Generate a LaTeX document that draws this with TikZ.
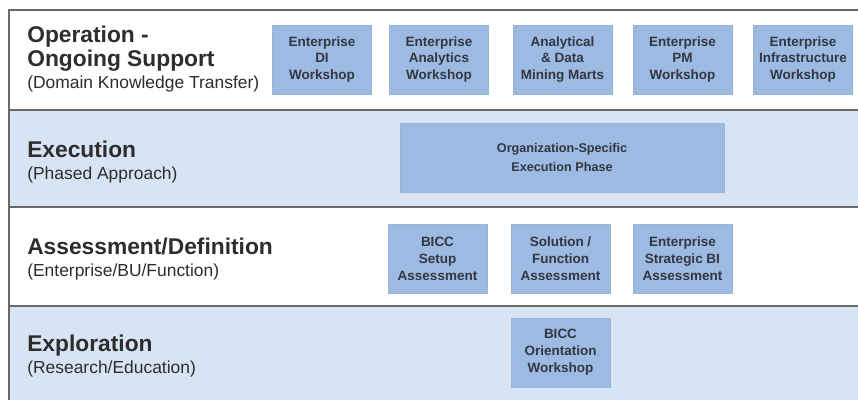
\documentclass[tikz,border=0pt]{standalone}
\usepackage{fontspec}
\setmainfont{Liberation Sans}
\usepackage{tikz}
\usetikzlibrary{positioning}
\definecolor{bandblue}{RGB}{214,228,243}
\definecolor{boxblue}{RGB}{157,186,226}
\definecolor{rulegray}{RGB}{105,105,105}
\definecolor{inkgray}{RGB}{45,45,45}
\definecolor{boxink}{RGB}{50,55,65}

\begin{document}
\begin{tikzpicture}[x=0.025cm, y=-0.025cm,
  bandtitle/.style={font=\fontsize{16.2}{17}\selectfont\bfseries, text=inkgray, inner sep=0pt},
  bandsub/.style={font=\fontsize{12.4}{14}\selectfont, text=inkgray, inner sep=0pt},
  blk/.style={fill=boxblue, draw=boxblue!90!gray, line width=0.4pt, text=boxink,
    minimum width=2.47cm, minimum height=1.73cm, inner sep=1pt, align=center,
    font=\fontsize{9.6}{12}\selectfont\bfseries},
  sep/.style={draw=rulegray, line width=1.6pt}
]
  \useasboundingbox (0,0) rectangle (858,400);
  % Bands
  \fill[white] (9,10) rectangle (858,110);
  \fill[bandblue] (9,110) rectangle (858,207);
  \fill[white] (9,207) rectangle (858,306);
  \fill[bandblue] (9,306) rectangle (858,400);
  % Rules
  \draw[sep] (858,10) -- (9,10) -- (9,400);
  \draw[sep] (9,110) -- (858,110);
  \draw[sep] (9,207) -- (858,207);
  \draw[sep] (9,306) -- (858,306);

  % Row 1: Operation
  \node[bandtitle, anchor=base west] (opA) at (27,43) {Operation -};
  \node[bandtitle, anchor=base west] (opB) at (27,67) {Ongoing Support};
  \node[bandsub, anchor=base west] (opsub) at (27,89) {(Domain Knowledge Transfer)};
  \node[blk] (diws) at (322,59.5) {Enterprise\\DI\\Workshop};
  \node[blk] (anws) at (439,59.5) {Enterprise\\Analytics\\Workshop};
  \node[blk] (marts) at (562.5,59.5) {Analytical\\\& Data\\Mining Marts};
  \node[blk] (pmws) at (682.5,59.5) {Enterprise\\PM\\Workshop};
  \node[blk] (infws) at (803,59.5) {Enterprise\\Infrastructure\\Workshop};

  % Row 2: Execution
  \node[bandtitle, anchor=base west] (exec) at (27,158) {Execution};
  \node[bandsub, anchor=base west] (execsub) at (27,180) {(Phased Approach)};
  \node[blk, minimum width=8.1cm, font=\fontsize{9}{13}\selectfont\bfseries] (phase) at (562,157.5)
    {Organization-Specific\\Execution Phase};

  % Row 3: Assessment
  \node[bandtitle, anchor=base west] (assess) at (27,255) {Assessment/Definition};
  \node[bandsub, anchor=base west] (assesssub) at (27,277) {(Enterprise/BU/Function)};
  \node[blk] (setup) at (437.5,259) {BICC\\Setup\\Assessment};
  \node[blk] (solfn) at (560.5,259) {Solution /\\Function\\Assessment};
  \node[blk] (stratbi) at (682.5,259) {Enterprise\\Strategic BI\\Assessment};

  % Row 4: Exploration
  \node[bandtitle, anchor=base west] (explore) at (27,352) {Exploration};
  \node[bandsub, anchor=base west] (exploresub) at (27,374) {(Research/Education)};
  \node[blk] (orient) at (560.5,352.5) {BICC\\Orientation\\Workshop};
\end{tikzpicture}
\end{document}
